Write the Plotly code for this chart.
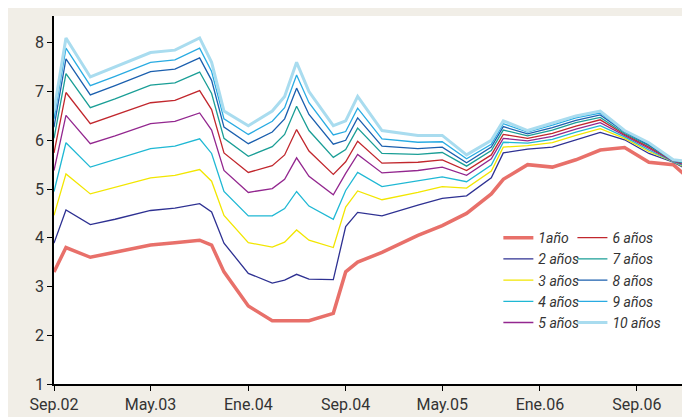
import plotly.graph_objects as go

# monthly offsets from Sep 2002
months = [0, 1, 3, 5, 8, 10, 12, 13, 14, 16, 18, 19, 20, 21, 23, 24, 25, 27, 30, 32,
          34, 36, 37, 39, 41, 43, 45, 47, 49, 51, 53]
dates = ["%d-%02d-01" % (2002 + (8 + m) // 12, (8 + m) % 12 + 1) for m in months]

y1 = [3.3, 3.8, 3.6, 3.7, 3.85, 3.9, 3.95, 3.85, 3.3, 2.6, 2.3, 2.3, 2.3, 2.3, 2.45, 3.3,
      3.5, 3.7, 4.05, 4.25, 4.5, 4.9, 5.2, 5.5, 5.45, 5.6, 5.8, 5.85, 5.55, 5.5, 5.05]
y2 = [3.89, 4.57, 4.27, 4.38, 4.56, 4.61, 4.7, 4.53, 3.89, 3.27, 3.07, 3.13, 3.25, 3.15, 3.14, 4.23,
      4.52, 4.45, 4.67, 4.81, 4.86, 5.23, 5.74, 5.82, 5.86, 6.01, 6.16, 6.01, 5.73, 5.55, 5.28]
y3 = [4.46, 5.31, 4.9, 5.03, 5.23, 5.28, 5.4, 5.16, 4.46, 3.9, 3.81, 3.91, 4.16, 3.95, 3.8, 4.63,
      4.96, 4.78, 4.93, 5.05, 5.02, 5.37, 5.86, 5.89, 5.95, 6.1, 6.24, 6.04, 5.77, 5.56, 5.33]
y4 = [4.95, 5.95, 5.45, 5.6, 5.83, 5.88, 6.03, 5.73, 4.95, 4.45, 4.45, 4.6, 4.95, 4.65, 4.38, 4.97,
      5.34, 5.05, 5.16, 5.25, 5.15, 5.49, 5.96, 5.94, 6.02, 6.17, 6.3, 6.07, 5.8, 5.56, 5.37]
y5 = [5.38, 6.51, 5.93, 6.09, 6.34, 6.39, 6.56, 6.21, 5.38, 4.93, 5.01, 5.2, 5.64, 5.26, 4.88, 5.32,
      5.71, 5.33, 5.38, 5.45, 5.28, 5.62, 6.04, 5.99, 6.08, 6.23, 6.36, 6.1, 5.83, 5.57, 5.4]
y6 = [5.74, 6.98, 6.34, 6.51, 6.77, 6.82, 7.02, 6.63, 5.74, 5.34, 5.48, 5.7, 6.22, 5.78, 5.3, 5.56,
      5.98, 5.53, 5.55, 5.6, 5.38, 5.7, 6.12, 6.04, 6.14, 6.29, 6.42, 6.12, 5.86, 5.58, 5.44]
y7 = [6.04, 7.37, 6.67, 6.85, 7.13, 7.18, 7.4, 6.96, 6.04, 5.67, 5.87, 6.12, 6.7, 6.2, 5.65, 5.81,
      6.25, 5.73, 5.71, 5.75, 5.47, 5.79, 6.21, 6.09, 6.21, 6.36, 6.47, 6.14, 5.89, 5.58, 5.47]
y8 = [6.27, 7.67, 6.93, 7.12, 7.41, 7.46, 7.69, 7.23, 6.27, 5.93, 6.17, 6.44, 7.07, 6.53, 5.92, 6.0,
      6.46, 5.88, 5.83, 5.86, 5.54, 5.86, 6.28, 6.13, 6.26, 6.41, 6.52, 6.17, 5.91, 5.59, 5.5]
y9 = [6.44, 7.89, 7.12, 7.31, 7.6, 7.65, 7.89, 7.41, 6.44, 6.12, 6.39, 6.67, 7.34, 6.77, 6.11, 6.18,
      6.66, 6.03, 5.96, 5.97, 5.62, 5.92, 6.34, 6.17, 6.31, 6.46, 6.56, 6.18, 5.93, 5.6, 5.53]
y10 = [6.6, 8.1, 7.3, 7.5, 7.8, 7.85, 8.1, 7.6, 6.6, 6.3, 6.6, 6.9, 7.6, 7.0, 6.3, 6.4,
       6.9, 6.2, 6.1, 6.1, 5.7, 6.0, 6.4, 6.2, 6.35, 6.5, 6.6, 6.2, 5.95, 5.6, 5.55]

series = [
    ("1año", y1, "#e8706a", 3.5, "legend"),
    ("2 años", y2, "#2e3192", 1.3, "legend"),
    ("3 años", y3, "#f2e600", 1.3, "legend"),
    ("4 años", y4, "#1fb8d4", 1.3, "legend"),
    ("5 años", y5, "#93278f", 1.3, "legend"),
    ("6 años", y6, "#c1272d", 1.3, "legend2"),
    ("7 años", y7, "#1a9e96", 1.3, "legend2"),
    ("8 años", y8, "#1b5fae", 1.3, "legend2"),
    ("9 años", y9, "#29abe2", 1.3, "legend2"),
    ("10 años", y10, "#a9dcef", 3, "legend2"),
]

fig = go.Figure()
for name, ys, color, w, leg in series:
    fig.add_trace(go.Scatter(x=dates, y=ys, name=name, mode="lines",
                             line=dict(color=color, width=w), legend=leg))

tick_dates = ["2002-09-01", "2003-05-01", "2004-01-01", "2004-09-01",
              "2005-05-01", "2006-01-01", "2006-09-01"]
tick_text = ["Sep.02", "May.03", "Ene.04", "Sep.04", "May.05", "Ene.06", "Sep.06"]

font = "Liberation Sans Narrow, Roboto, sans-serif"
legfont = dict(family=font, size=14, color="#333", style="italic")
fig.update_layout(
    width=690, height=417,
    margin=dict(l=46, r=0, t=8, b=41),
    paper_bgcolor="#f1eee7", plot_bgcolor="white",
    font=dict(family=font, size=16, color="#333"),
    legend=dict(x=0.69, y=0.44, xanchor="left", yanchor="top", bgcolor="rgba(0,0,0,0)",
                font=legfont, tracegroupgap=0, itemwidth=30),
    legend2=dict(x=0.805, y=0.44, xanchor="left", yanchor="top", bgcolor="rgba(0,0,0,0)",
                 font=legfont, tracegroupgap=0, itemwidth=30),
)
fig.update_xaxes(range=["2002-09-01", "2007-02-01"], tickvals=tick_dates, ticktext=tick_text,
                 showgrid=False, showline=True, linecolor="black", linewidth=1.5,
                 ticks="outside", ticklen=5, tickcolor="black", zeroline=False)
fig.update_yaxes(range=[1, 8.55], dtick=1, showgrid=False, showline=True, linecolor="black",
                 linewidth=1.5, ticks="outside", ticklen=5, tickcolor="black", zeroline=False)

fig.write_html("out.html")
